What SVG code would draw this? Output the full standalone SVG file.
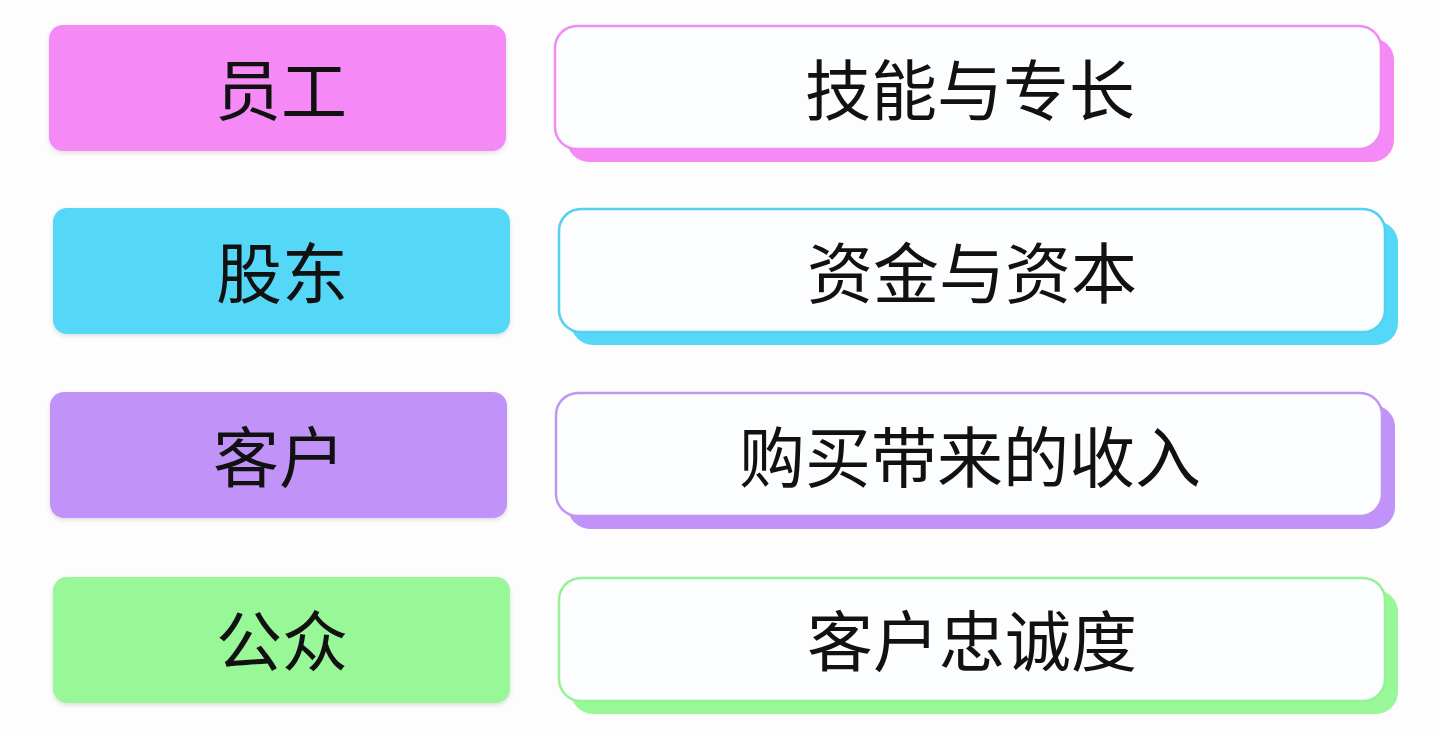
<svg xmlns="http://www.w3.org/2000/svg" width="1440" height="736" viewBox="0 0 1440 736">
<defs>
<style>
.lbl{font-family:"Noto Sans CJK SC","Noto Sans",sans-serif;font-size:66px;fill:#111;text-anchor:middle;dominant-baseline:central}
.card{fill:#fbfdfe;stroke-width:2.5}
</style>
<filter id="sh" x="-5%" y="-10%" width="110%" height="130%">
<feDropShadow dx="0" dy="2" stdDeviation="2" flood-color="#000" flood-opacity="0.12"/>
</filter>
</defs>
<rect width="1440" height="736" fill="#fdfdfe"/>
<g id="row1">
<rect x="49" y="25" width="457" height="126" rx="14" fill="#f589f5" filter="url(#sh)"/>
<text class="lbl" x="281" y="86">员工</text>
<rect x="567" y="38" width="827" height="124" rx="22" fill="#f589f5"/>
<rect class="card" x="555" y="26" width="826" height="123" rx="22" stroke="#f08cf0"/>
<text class="lbl" x="970" y="86">技能与专长</text>
</g>
<g id="row2">
<rect x="53" y="208" width="457" height="126" rx="14" fill="#55d7f8" filter="url(#sh)"/>
<text class="lbl" x="282" y="269">股东</text>
<rect x="571" y="221" width="827" height="124" rx="22" fill="#55d7f8"/>
<rect class="card" x="559" y="209" width="826" height="123" rx="22" stroke="#55d0f0"/>
<text class="lbl" x="972" y="269">资金与资本</text>
</g>
<g id="row3">
<rect x="50" y="392" width="457" height="126" rx="14" fill="#c193f8" filter="url(#sh)"/>
<text class="lbl" x="279" y="453">客户</text>
<rect x="568" y="405" width="827" height="124" rx="22" fill="#c193f8"/>
<rect class="card" x="556" y="393" width="826" height="123" rx="22" stroke="#c295f2"/>
<text class="lbl" x="970" y="453">购买带来的收入</text>
</g>
<g id="row4">
<rect x="53" y="577" width="457" height="126" rx="14" fill="#98f898" filter="url(#sh)"/>
<text class="lbl" x="282" y="637">公众</text>
<rect x="571" y="590" width="827" height="124" rx="22" fill="#98f898"/>
<rect class="card" x="559" y="578" width="826" height="123" rx="22" stroke="#98f098"/>
<text class="lbl" x="972" y="637">客户忠诚度</text>
</g>
<g id="connectors"/>
</svg>
